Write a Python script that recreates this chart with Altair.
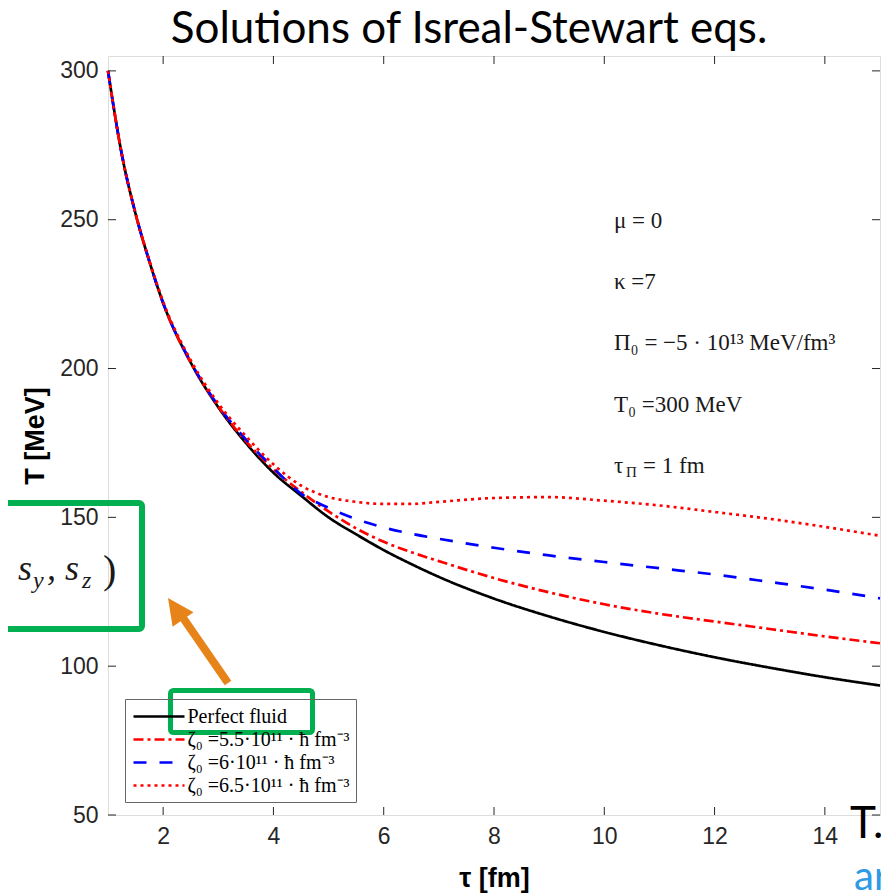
import altair as alt
import pandas as pd

# ---- data ----
tau = [1, 1.25, 1.5, 1.75, 2, 2.5, 3, 3.5, 4, 4.5, 5, 5.5, 6, 6.5, 7, 8, 9, 10, 11, 12, 13, 14, 15]
perfect = [300, 272, 252, 236, 222, 202, 187, 175, 165, 157.3, 150, 144.3, 139, 134.3, 130, 122.7, 116.7, 111.5, 107, 103, 99.5, 96.3, 93.5]
zeta55 = [300, 272, 252, 236, 222, 202, 187.3, 175.6, 166.2, 158.6, 152, 146.3, 141.8, 138.3, 135.3, 129.6, 124.8, 120.8, 117.6, 115, 112.5, 110, 107.7]
zeta60 = [300, 272, 252, 236, 222, 202.2, 187.5, 176.2, 166.6, 158, 153.2, 149.4, 146.6, 144.5, 142.8, 139.8, 137.2, 135, 132.9, 130.8, 128.3, 125.7, 122.8]
zeta65 = [300, 272, 252, 236.3, 222.5, 202.8, 188.3, 177.3, 167.8, 160.7, 156.8, 155.2, 154.5, 154.5, 155.2, 156.5, 156.8, 155.6, 154, 151.8, 149.5, 146.8, 143.8]
series_names = ["Perfect fluid",
                "ζ₀ =5.5·10¹¹ · ħ fm⁻³",
                "ζ₀ =6·10¹¹ · ħ fm⁻³",
                "ζ₀ =6.5·10¹¹ · ħ fm⁻³"]
x_ticks = [2, 4, 6, 8, 10, 12, 14]
y_ticks = [50, 100, 150, 200, 250, 300]
param_lines = ["μ = 0", "κ =7", "Π₀ = −5 · 10¹³ MeV/fm³", "T₀ =300 MeV"]
title_text = "Solutions of Isreal-Stewart eqs."

rows = []
for name, vals in zip(series_names, [perfect, zeta55, zeta60, zeta65]):
    for t, v in zip(tau, vals):
        rows.append({"tau": t, "T": v, "series": name})
df = pd.DataFrame(rows)

W, H = 772, 759
xs = alt.Scale(domain=[1, 15], nice=False, zero=False)
ys = alt.Scale(domain=[50, 305], nice=False, zero=False)
AX = "#262626"
GREEN = "#00B050"
ORANGE = "#E6841A"

x_axis = alt.Axis(values=x_ticks, ticks=False, domain=False, grid=False,
                  labelFont="Liberation Sans", labelFontSize=23, labelColor=AX,
                  labelPadding=10, title="τ [fm]", titleFont="Liberation Sans",
                  titleFontSize=27, titleFontWeight="bold", titleColor="black",
                  titlePadding=17)
y_axis = alt.Axis(values=y_ticks, ticks=False, domain=False, grid=False,
                  labelFont="Liberation Sans", labelFontSize=23, labelColor=AX,
                  labelPadding=10, title="T [MeV]", titleFont="Liberation Sans",
                  titleFontSize=27, titleFontWeight="bold", titleColor="black",
                  titlePadding=10)

leg = alt.Legend(title=None, orient="none", legendX=17, legendY=643,
                 symbolType="M-2.55,0L2.55,0", symbolSize=400, symbolStrokeWidth=2.5,
                 symbolOffset=16.5, labelOffset=17,
                 labelFont="Liberation Serif", labelFontSize=20, labelColor="black",
                 strokeColor="#666666", padding=6, rowPadding=1,
                 labelLimit=400)

lines = alt.Chart(df).mark_line(strokeWidth=2.7, interpolate="monotone").encode(
    x=alt.X("tau:Q", scale=xs, axis=x_axis),
    y=alt.Y("T:Q", scale=ys, axis=y_axis),
    color=alt.Color("series:N", scale=alt.Scale(domain=series_names,
                                                range=["black", "#ff0000", "#0000ff", "#ff0000"]),
                    legend=leg),
    strokeDash=alt.StrokeDash("series:N", scale=alt.Scale(domain=series_names,
                                                          range=[[1, 0], [10, 4, 3, 4], [13, 13], [3, 4]]),
                              legend=leg),
)

xt = pd.DataFrame({"tau": x_ticks})
yt = pd.DataFrame({"T": y_ticks})
tick_b = alt.Chart(xt).mark_rule(color=AX, strokeWidth=1).encode(
    x=alt.X("tau:Q", scale=xs, axis=x_axis), y=alt.value(H), y2=alt.value(H - 8))
tick_t = alt.Chart(xt).mark_rule(color=AX, strokeWidth=1).encode(
    x=alt.X("tau:Q", scale=xs, axis=x_axis), y=alt.value(0), y2=alt.value(8))
tick_l = alt.Chart(yt).mark_rule(color=AX, strokeWidth=1).encode(
    y=alt.Y("T:Q", scale=ys, axis=y_axis), x=alt.value(0), x2=alt.value(8))
tick_r = alt.Chart(yt).mark_rule(color=AX, strokeWidth=1).encode(
    y=alt.Y("T:Q", scale=ys, axis=y_axis), x=alt.value(W), x2=alt.value(W - 8))


def label(text, x, y, size, font="Liberation Serif", color="#1a1a1a",
          style="normal", weight="normal", align="left"):
    return alt.Chart(pd.DataFrame({"t": [text]})).mark_text(
        align=align, baseline="alphabetic", font=font, fontSize=size,
        fontStyle=style, fontWeight=weight, color=color).encode(
        text="t:N", x=alt.value(x), y=alt.value(y))


one = pd.DataFrame({"a": [0]})

title_mark = label(title_text, 361, -13, 44, font="Lato", color="black", align="center")

params = [label(t, 506, yy, 23) for t, yy in zip(param_lines, [172, 233, 294, 356])]
params += [label("τ", 506, 417, 23), label("Π", 518, 421, 15), label("= 1 fm", 535, 417, 23)]

box_leg = alt.Chart(one).mark_rect(fillOpacity=0, stroke=GREEN, strokeWidth=5, cornerRadius=3).encode(
    x=alt.value(62.5), x2=alt.value(204.5), y=alt.value(634.5), y2=alt.value(676.5))
box_left = alt.Chart(one).mark_rect(fillOpacity=0, stroke=GREEN, strokeWidth=6, cornerRadius=3).encode(
    x=alt.value(-140), x2=alt.value(34), y=alt.value(447), y2=alt.value(573))
spin = [label(", s", -108, 524, 36, style="italic"),
        label("y", -75, 532, 24, style="italic"),
        label(", s", -61, 524, 36, style="italic"),
        label("z", -26, 532, 24, style="italic"),
        label(")", -5, 527, 40)]

shaft = alt.Chart(one).mark_rule(color=ORANGE, strokeWidth=8).encode(
    x=alt.value(120), y=alt.value(627), x2=alt.value(71), y2=alt.value(556))
head = alt.Chart(one).mark_point(shape="M0,-1L0.85,0.75L-0.85,0.75Z", filled=True, size=900,
                                 angle=325, color=ORANGE, opacity=1).encode(
    x=alt.value(68.6), y=alt.value(554.3))

t_mark = label("T.", 742, 782, 44, font="Lato", color="black")
ar_mark = label("ar", 746, 834, 40, font="Lato", color="#2E9AE6")

chart = alt.layer(lines, tick_b, tick_t, tick_l, tick_r, title_mark, *params, box_leg, box_left,
                  *spin, shaft, head, t_mark, ar_mark).properties(
    width=W, height=H,
    autosize=alt.AutoSizeParams(type="none"),
    padding={"left": 100, "top": 48, "right": 1, "bottom": 80},
).configure_view(stroke="#404040", strokeWidth=1).configure(background="white")

chart.save("out.html", embed_options={"renderer": "svg", "actions": False})
